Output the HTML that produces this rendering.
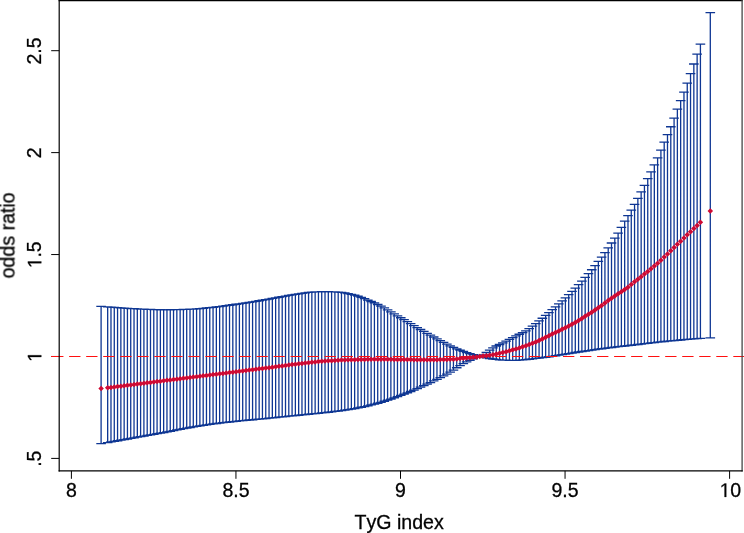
<!DOCTYPE html>
<html><head><meta charset="utf-8"><title>TyG index odds ratio</title>
<style>html,body{margin:0;padding:0;background:#fff}body{width:744px;height:533px;overflow:hidden;font-family:"Liberation Sans",sans-serif}svg{display:block}</style></head>
<body>
<svg width="744" height="533" viewBox="0 0 744 533">
<rect width="744" height="533" fill="#fff"/>
<path d="M51.2 458.40H59.2M51.2 356.47H59.2M51.2 254.55H59.2M51.2 152.62H59.2M51.2 50.70H59.2M71.40 470.9V478.8M235.95 470.9V478.8M400.50 470.9V478.8M565.05 470.9V478.8M729.60 470.9V478.8" stroke="#000" stroke-width="1" fill="none"/>
<path d="M101.10 306.42V443.71M96.30 306.42H105.90M96.30 443.71H105.90M107.68 306.96V442.54M102.88 306.96H112.48M102.88 442.54H112.48M110.98 307.22V441.95M106.18 307.22H115.78M106.18 441.95H115.78M114.27 307.46V441.36M109.47 307.46H119.07M109.47 441.36H119.07M117.56 307.68V440.77M112.76 307.68H122.36M112.76 440.77H122.36M120.86 307.91V440.18M116.06 307.91H125.66M116.06 440.18H125.66M124.15 308.13V439.58M119.35 308.13H128.95M119.35 439.58H128.95M127.44 308.34V438.99M122.64 308.34H132.24M122.64 438.99H132.24M130.73 308.54V438.40M125.93 308.54H135.53M125.93 438.40H135.53M134.03 308.72V437.80M129.23 308.72H138.83M129.23 437.80H138.83M137.32 308.89V437.21M132.52 308.89H142.12M132.52 437.21H142.12M140.61 309.03V436.62M135.81 309.03H145.41M135.81 436.62H145.41M143.91 309.17V436.04M139.11 309.17H148.71M139.11 436.04H148.71M147.20 309.32V435.46M142.40 309.32H152.00M142.40 435.46H152.00M150.49 309.46V434.88M145.69 309.46H155.29M145.69 434.88H155.29M153.78 309.58V434.30M148.98 309.58H158.59M148.98 434.30H158.59M157.08 309.68V433.72M152.28 309.68H161.88M152.28 433.72H161.88M160.37 309.76V433.13M155.57 309.76H165.17M155.57 433.13H165.17M163.66 309.80V432.53M158.86 309.80H168.46M158.86 432.53H168.46M166.96 309.79V431.92M162.16 309.79H171.76M162.16 431.92H171.76M170.25 309.76V431.28M165.45 309.76H175.05M165.45 431.28H175.05M173.54 309.71V430.63M168.74 309.71H178.34M168.74 430.63H178.34M176.84 309.63V429.97M172.04 309.63H181.64M172.04 429.97H181.64M180.13 309.54V429.32M175.33 309.54H184.93M175.33 429.32H184.93M183.42 309.43V428.68M178.62 309.43H188.22M178.62 428.68H188.22M186.71 309.32V428.07M181.91 309.32H191.51M181.91 428.07H191.51M190.01 309.20V427.49M185.21 309.20H194.81M185.21 427.49H194.81M193.30 309.04V426.93M188.50 309.04H198.10M188.50 426.93H198.10M196.59 308.83V426.39M191.79 308.83H201.39M191.79 426.39H201.39M199.89 308.58V425.87M195.09 308.58H204.69M195.09 425.87H204.69M203.18 308.29V425.36M198.38 308.29H207.98M198.38 425.36H207.98M206.47 307.97V424.87M201.67 307.97H211.27M201.67 424.87H211.27M209.77 307.64V424.40M204.97 307.64H214.57M204.97 424.40H214.57M213.06 307.30V423.95M208.26 307.30H217.86M208.26 423.95H217.86M216.35 306.95V423.52M211.55 306.95H221.15M211.55 423.52H221.15M219.64 306.57V423.11M214.84 306.57H224.44M214.84 423.11H224.44M222.94 306.15V422.72M218.14 306.15H227.74M218.14 422.72H227.74M226.23 305.70V422.35M221.43 305.70H231.03M221.43 422.35H231.03M229.52 305.23V421.99M224.72 305.23H234.32M224.72 421.99H234.32M232.82 304.75V421.64M228.02 304.75H237.62M228.02 421.64H237.62M236.11 304.27V421.29M231.31 304.27H240.91M231.31 421.29H240.91M239.40 303.78V420.96M234.60 303.78H244.20M234.60 420.96H244.20M242.70 303.30V420.63M237.90 303.30H247.50M237.90 420.63H247.50M245.99 302.81V420.32M241.19 302.81H250.79M241.19 420.32H250.79M249.28 302.32V420.02M244.48 302.32H254.08M244.48 420.02H254.08M252.58 301.81V419.73M247.78 301.81H257.38M247.78 419.73H257.38M255.87 301.29V419.43M251.07 301.29H260.67M251.07 419.43H260.67M259.16 300.76V419.14M254.36 300.76H263.96M254.36 419.14H263.96M262.45 300.22V418.84M257.65 300.22H267.25M257.65 418.84H267.25M265.75 299.67V418.53M260.95 299.67H270.55M260.95 418.53H270.55M269.04 299.08V418.20M264.24 299.08H273.84M264.24 418.20H273.84M272.33 298.47V417.87M267.53 298.47H277.13M267.53 417.87H277.13M275.63 297.86V417.54M270.83 297.86H280.43M270.83 417.54H280.43M278.92 297.27V417.21M274.12 297.27H283.72M274.12 417.21H283.72M282.21 296.67V416.88M277.41 296.67H287.01M277.41 416.88H287.01M285.51 296.06V416.55M280.71 296.06H290.31M280.71 416.55H290.31M288.80 295.46V416.22M284.00 295.46H293.60M284.00 416.22H293.60M292.09 294.88V415.89M287.29 294.88H296.89M287.29 415.89H296.89M295.38 294.34V415.56M290.58 294.34H300.18M290.58 415.56H300.18M298.68 293.83V415.23M293.88 293.83H303.48M293.88 415.23H303.48M301.97 293.37V414.90M297.17 293.37H306.77M297.17 414.90H306.77M305.26 292.90V414.58M300.46 292.90H310.06M300.46 414.58H310.06M308.56 292.46V414.27M303.76 292.46H313.36M303.76 414.27H313.36M311.85 292.13V413.95M307.05 292.13H316.65M307.05 413.95H316.65M315.14 291.95V413.63M310.34 291.95H319.94M310.34 413.63H319.94M318.44 291.84V413.31M313.63 291.84H323.24M313.63 413.31H323.24M321.73 291.75V412.97M316.93 291.75H326.53M316.93 412.97H326.53M325.02 291.70V412.61M320.22 291.70H329.82M320.22 412.61H329.82M328.31 291.72V412.24M323.51 291.72H333.11M323.51 412.24H333.11M331.61 291.80V411.86M326.81 291.80H336.41M326.81 411.86H336.41M334.90 291.94V411.46M330.10 291.94H339.70M330.10 411.46H339.70M338.19 292.11V411.05M333.39 292.11H342.99M333.39 411.05H342.99M341.49 292.43V410.62M336.69 292.43H346.29M336.69 410.62H346.29M344.78 292.95V410.16M339.98 292.95H349.58M339.98 410.16H349.58M348.07 293.61V409.67M343.27 293.61H352.87M343.27 409.67H352.87M351.36 294.33V409.14M346.56 294.33H356.16M346.56 409.14H356.16M354.66 295.17V408.57M349.86 295.17H359.46M349.86 408.57H359.46M357.95 296.19V407.94M353.15 296.19H362.75M353.15 407.94H362.75M361.24 297.36V407.26M356.44 297.36H366.04M356.44 407.26H366.04M364.54 298.65V406.54M359.74 298.65H369.34M359.74 406.54H369.34M367.83 300.03V405.78M363.03 300.03H372.63M363.03 405.78H372.63M371.12 301.48V404.97M366.32 301.48H375.92M366.32 404.97H375.92M374.42 302.96V404.13M369.62 302.96H379.22M369.62 404.13H379.22M377.71 304.48V403.25M372.91 304.48H382.51M372.91 403.25H382.51M381.00 306.14V402.29M376.20 306.14H385.80M376.20 402.29H385.80M384.29 307.94V401.26M379.49 307.94H389.09M379.49 401.26H389.09M387.59 309.84V400.17M382.79 309.84H392.39M382.79 400.17H392.39M390.88 311.80V399.04M386.08 311.80H395.68M386.08 399.04H395.68M394.17 313.79V397.85M389.37 313.79H398.97M389.37 397.85H398.97M397.47 315.78V396.64M392.67 315.78H402.27M392.67 396.64H402.27M400.76 317.73V395.41M395.96 317.73H405.56M395.96 395.41H405.56M404.05 319.65V394.15M399.25 319.65H408.85M399.25 394.15H408.85M407.35 321.61V392.84M402.55 321.61H412.15M402.55 392.84H412.15M410.64 323.58V391.48M405.84 323.58H415.44M405.84 391.48H415.44M413.93 325.56V390.08M409.13 325.56H418.73M409.13 390.08H418.73M417.23 327.54V388.64M412.43 327.54H422.03M412.43 388.64H422.03M420.52 329.49V387.17M415.72 329.49H425.32M415.72 387.17H425.32M423.81 331.41V385.66M419.01 331.41H428.61M419.01 385.66H428.61M427.10 333.28V384.12M422.30 333.28H431.90M422.30 384.12H431.90M430.40 335.15V382.55M425.60 335.15H435.20M425.60 382.55H435.20M433.69 337.02V380.95M428.89 337.02H438.49M428.89 380.95H438.49M436.98 338.87V379.31M432.18 338.87H441.78M432.18 379.31H441.78M440.28 340.69V377.62M435.48 340.69H445.08M435.48 377.62H445.08M443.57 342.46V375.87M438.77 342.46H448.37M438.77 375.87H448.37M446.86 344.17V374.05M442.06 344.17H451.66M442.06 374.05H451.66M450.16 345.80V372.15M445.36 345.80H454.96M445.36 372.15H454.96M453.45 347.35V370.08M448.65 347.35H458.25M448.65 370.08H458.25M456.74 348.82V367.77M451.94 348.82H461.54M451.94 367.77H461.54M460.03 350.19V365.54M455.23 350.19H464.83M455.23 365.54H464.83M463.33 351.44V363.66M458.53 351.44H468.13M458.53 363.66H468.13M466.62 352.62V361.96M461.82 352.62H471.42M461.82 361.96H471.42M469.91 353.70V360.38M465.11 353.70H474.71M465.11 360.38H474.71M473.21 354.70V358.77M468.41 354.70H478.01M468.41 358.77H478.01M476.50 355.74V357.00M471.70 355.74H481.30M471.70 357.00H481.30M479.79 356.20V356.20M474.99 356.20H484.59M474.99 356.20H484.59M483.08 354.88V356.83M478.28 354.88H487.88M478.28 356.83H487.88M486.38 352.49V357.84M481.58 352.49H491.18M481.58 357.84H491.18M489.67 350.16V358.48M484.87 350.16H494.47M484.87 358.48H494.47M492.96 347.79V359.02M488.16 347.79H497.76M488.16 359.02H497.76M496.26 346.02V359.43M491.46 346.02H501.06M491.46 359.43H501.06M499.55 344.48V359.78M494.75 344.48H504.35M494.75 359.78H504.35M502.84 342.94V360.04M498.04 342.94H507.64M498.04 360.04H507.64M506.14 341.22V360.19M501.34 341.22H510.94M501.34 360.19H510.94M509.43 339.37V360.31M504.63 339.37H514.23M504.63 360.31H514.23M512.72 337.53V360.39M507.92 337.53H517.52M507.92 360.39H517.52M516.01 335.80V360.38M511.21 335.80H520.81M511.21 360.38H520.81M519.31 334.23V360.18M514.51 334.23H524.11M514.51 360.18H524.11M522.60 332.65V359.87M517.80 332.65H527.40M517.80 359.87H527.40M525.89 330.82V359.56M521.09 330.82H530.69M521.09 359.56H530.69M529.19 328.63V359.23M524.39 328.63H533.99M524.39 359.23H533.99M532.48 326.17V358.86M527.68 326.17H537.28M527.68 358.86H537.28M535.77 323.58V358.46M530.97 323.58H540.57M530.97 358.46H540.57M539.07 320.96V358.07M534.27 320.96H543.87M534.27 358.07H543.87M542.36 318.23V357.66M537.56 318.23H547.16M537.56 357.66H547.16M545.65 315.40V357.23M540.85 315.40H550.45M540.85 357.23H550.45M548.94 312.54V356.77M544.14 312.54H553.74M544.14 356.77H553.74M552.24 309.70V356.28M547.44 309.70H557.04M547.44 356.28H557.04M555.53 306.84V355.73M550.73 306.84H560.33M550.73 355.73H560.33M558.82 303.93V355.16M554.02 303.93H563.62M554.02 355.16H563.62M562.12 300.94V354.61M557.32 300.94H566.92M557.32 354.61H566.92M565.41 297.85V354.08M560.61 297.85H570.21M560.61 354.08H570.21M568.70 294.68V353.55M563.90 294.68H573.50M563.90 353.55H573.50M572.00 291.42V353.04M567.20 291.42H576.80M567.20 353.04H576.80M575.29 288.07V352.52M570.49 288.07H580.09M570.49 352.52H580.09M578.58 284.63V352.02M573.78 284.63H583.38M573.78 352.02H583.38M581.88 281.10V351.52M577.08 281.10H586.68M577.08 351.52H586.68M585.17 277.45V351.04M580.37 277.45H589.97M580.37 351.04H589.97M588.46 273.66V350.57M583.66 273.66H593.26M583.66 350.57H593.26M591.75 269.73V350.10M586.95 269.73H596.55M586.95 350.10H596.55M595.05 265.64V349.64M590.25 265.64H599.85M590.25 349.64H599.85M598.34 261.42V349.19M593.54 261.42H603.14M593.54 349.19H603.14M601.63 257.07V348.75M596.83 257.07H606.43M596.83 348.75H606.43M604.93 252.53V348.31M600.13 252.53H609.73M600.13 348.31H609.73M608.22 247.81V347.89M603.42 247.81H613.02M603.42 347.89H613.02M611.51 242.99V347.48M606.71 242.99H616.31M606.71 347.48H616.31M614.81 238.20V347.09M610.01 238.20H619.61M610.01 347.09H619.61M618.10 233.21V346.71M613.30 233.21H622.90M613.30 346.71H622.90M621.39 227.36V346.34M616.59 227.36H626.19M616.59 346.34H626.19M624.68 221.22V345.98M619.88 221.22H629.48M619.88 345.98H629.48M627.98 215.65V345.63M623.18 215.65H632.78M623.18 345.63H632.78M631.27 210.10V345.27M626.47 210.10H636.07M626.47 345.27H636.07M634.56 204.31V344.90M629.76 204.31H639.36M629.76 344.90H639.36M637.86 198.29V344.52M633.06 198.29H642.66M633.06 344.52H642.66M641.15 191.92V344.13M636.35 191.92H645.95M636.35 344.13H645.95M644.44 185.33V343.72M639.64 185.33H649.24M639.64 343.72H649.24M647.74 178.62V343.31M642.94 178.62H652.53M642.94 343.31H652.53M651.03 171.78V342.91M646.23 171.78H655.83M646.23 342.91H655.83M654.32 164.93V342.53M649.52 164.93H659.12M649.52 342.53H659.12M657.61 157.85V342.18M652.81 157.85H662.41M652.81 342.18H662.41M660.91 150.14V341.84M656.11 150.14H665.71M656.11 341.84H665.71M664.20 142.21V341.51M659.40 142.21H669.00M659.40 341.51H669.00M667.49 134.59V341.19M662.69 134.59H672.29M662.69 341.19H672.29M670.79 126.75V340.88M665.99 126.75H675.59M665.99 340.88H675.59M674.08 118.04V340.58M669.28 118.04H678.88M669.28 340.58H678.88M677.37 109.12V340.28M672.57 109.12H682.17M672.57 340.28H682.17M680.66 100.66V339.98M675.87 100.66H685.46M675.87 339.98H685.46M683.96 92.10V339.68M679.16 92.10H688.76M679.16 339.68H688.76M687.25 83.04V339.37M682.45 83.04H692.05M682.45 339.37H692.05M690.54 73.67V339.07M685.74 73.67H695.34M685.74 339.07H695.34M693.84 64.01V338.79M689.04 64.01H698.64M689.04 338.79H698.64M697.13 54.13V338.53M692.33 54.13H701.93M692.33 338.53H701.93M700.42 44.06V338.30M695.62 44.06H705.22M695.62 338.30H705.22M710.30 12.59V337.80M705.50 12.59H715.10M705.50 337.80H715.10" fill="none" stroke="#0e3693" stroke-width="1.3"/>
<line x1="52.1" y1="356.45" x2="744" y2="356.45" stroke="#ff1010" stroke-width="1.15" stroke-dasharray="11.33 5.7"/>
<line x1="51.1" y1="356.45" x2="53" y2="356.45" stroke="#ff1010" stroke-width="1.15"/>
<path d="M101.10 385.73L103.85 388.48L101.10 391.23L98.35 388.48ZM107.68 385.02L110.43 387.77L107.68 390.52L104.93 387.77ZM110.98 384.63L113.73 387.38L110.98 390.13L108.23 387.38ZM114.27 384.24L117.02 386.99L114.27 389.74L111.52 386.99ZM117.56 383.83L120.31 386.58L117.56 389.33L114.81 386.58ZM120.86 383.42L123.61 386.17L120.86 388.92L118.11 386.17ZM124.15 383.01L126.90 385.76L124.15 388.51L121.40 385.76ZM127.44 382.58L130.19 385.33L127.44 388.08L124.69 385.33ZM130.73 382.16L133.48 384.91L130.73 387.66L127.98 384.91ZM134.03 381.74L136.78 384.49L134.03 387.24L131.28 384.49ZM137.32 381.32L140.07 384.07L137.32 386.82L134.57 384.07ZM140.61 380.91L143.36 383.66L140.61 386.41L137.86 383.66ZM143.91 380.50L146.66 383.25L143.91 386.00L141.16 383.25ZM147.20 380.09L149.95 382.84L147.20 385.59L144.45 382.84ZM150.49 379.68L153.24 382.43L150.49 385.18L147.74 382.43ZM153.78 379.27L156.53 382.02L153.78 384.77L151.03 382.02ZM157.08 378.86L159.83 381.61L157.08 384.36L154.33 381.61ZM160.37 378.44L163.12 381.19L160.37 383.94L157.62 381.19ZM163.66 378.03L166.41 380.78L163.66 383.53L160.91 380.78ZM166.96 377.62L169.71 380.37L166.96 383.12L164.21 380.37ZM170.25 377.21L173.00 379.96L170.25 382.71L167.50 379.96ZM173.54 376.80L176.29 379.55L173.54 382.30L170.79 379.55ZM176.84 376.39L179.59 379.14L176.84 381.89L174.09 379.14ZM180.13 375.97L182.88 378.72L180.13 381.47L177.38 378.72ZM183.42 375.56L186.17 378.31L183.42 381.06L180.67 378.31ZM186.71 375.15L189.46 377.90L186.71 380.65L183.96 377.90ZM190.01 374.74L192.76 377.49L190.01 380.24L187.26 377.49ZM193.30 374.33L196.05 377.08L193.30 379.83L190.55 377.08ZM196.59 373.92L199.34 376.67L196.59 379.42L193.84 376.67ZM199.89 373.51L202.64 376.26L199.89 379.01L197.14 376.26ZM203.18 373.09L205.93 375.84L203.18 378.59L200.43 375.84ZM206.47 372.68L209.22 375.43L206.47 378.18L203.72 375.43ZM209.77 372.27L212.52 375.02L209.77 377.77L207.02 375.02ZM213.06 371.86L215.81 374.61L213.06 377.36L210.31 374.61ZM216.35 371.45L219.10 374.20L216.35 376.95L213.60 374.20ZM219.64 371.04L222.39 373.79L219.64 376.54L216.89 373.79ZM222.94 370.63L225.69 373.38L222.94 376.13L220.19 373.38ZM226.23 370.22L228.98 372.97L226.23 375.72L223.48 372.97ZM229.52 369.80L232.27 372.55L229.52 375.30L226.77 372.55ZM232.82 369.39L235.57 372.14L232.82 374.89L230.07 372.14ZM236.11 368.98L238.86 371.73L236.11 374.48L233.36 371.73ZM239.40 368.57L242.15 371.32L239.40 374.07L236.65 371.32ZM242.70 368.16L245.45 370.91L242.70 373.66L239.95 370.91ZM245.99 367.75L248.74 370.50L245.99 373.25L243.24 370.50ZM249.28 367.34L252.03 370.09L249.28 372.84L246.53 370.09ZM252.58 366.93L255.33 369.68L252.58 372.43L249.83 369.68ZM255.87 366.52L258.62 369.27L255.87 372.02L253.12 369.27ZM259.16 366.11L261.91 368.86L259.16 371.61L256.41 368.86ZM262.45 365.70L265.20 368.45L262.45 371.20L259.70 368.45ZM265.75 365.29L268.50 368.04L265.75 370.79L263.00 368.04ZM269.04 364.88L271.79 367.63L269.04 370.38L266.29 367.63ZM272.33 364.46L275.08 367.21L272.33 369.96L269.58 367.21ZM275.63 364.05L278.38 366.80L275.63 369.55L272.88 366.80ZM278.92 363.62L281.67 366.37L278.92 369.12L276.17 366.37ZM282.21 363.18L284.96 365.93L282.21 368.68L279.46 365.93ZM285.51 362.73L288.26 365.48L285.51 368.23L282.76 365.48ZM288.80 362.29L291.55 365.04L288.80 367.79L286.05 365.04ZM292.09 361.85L294.84 364.60L292.09 367.35L289.34 364.60ZM295.38 361.42L298.13 364.17L295.38 366.92L292.63 364.17ZM298.68 361.02L301.43 363.77L298.68 366.52L295.93 363.77ZM301.97 360.64L304.72 363.39L301.97 366.14L299.22 363.39ZM305.26 360.27L308.01 363.02L305.26 365.77L302.51 363.02ZM308.56 359.89L311.31 362.64L308.56 365.39L305.81 362.64ZM311.85 359.53L314.60 362.28L311.85 365.03L309.10 362.28ZM315.14 359.19L317.89 361.94L315.14 364.69L312.39 361.94ZM318.44 358.86L321.19 361.61L318.44 364.36L315.69 361.61ZM321.73 358.57L324.48 361.32L321.73 364.07L318.98 361.32ZM325.02 358.32L327.77 361.07L325.02 363.82L322.27 361.07ZM328.31 358.10L331.06 360.85L328.31 363.60L325.56 360.85ZM331.61 357.89L334.36 360.64L331.61 363.39L328.86 360.64ZM334.90 357.70L337.65 360.45L334.90 363.20L332.15 360.45ZM338.19 357.52L340.94 360.27L338.19 363.02L335.44 360.27ZM341.49 357.36L344.24 360.11L341.49 362.86L338.74 360.11ZM344.78 357.22L347.53 359.97L344.78 362.72L342.03 359.97ZM348.07 357.09L350.82 359.84L348.07 362.59L345.32 359.84ZM351.36 356.99L354.11 359.74L351.36 362.49L348.61 359.74ZM354.66 356.90L357.41 359.65L354.66 362.40L351.91 359.65ZM357.95 356.80L360.70 359.55L357.95 362.30L355.20 359.55ZM361.24 356.72L363.99 359.47L361.24 362.22L358.49 359.47ZM364.54 356.64L367.29 359.39L364.54 362.14L361.79 359.39ZM367.83 356.57L370.58 359.32L367.83 362.07L365.08 359.32ZM371.12 356.53L373.87 359.28L371.12 362.03L368.37 359.28ZM374.42 356.50L377.17 359.25L374.42 362.00L371.67 359.25ZM377.71 356.50L380.46 359.25L377.71 362.00L374.96 359.25ZM381.00 356.52L383.75 359.27L381.00 362.02L378.25 359.27ZM384.29 356.55L387.04 359.30L384.29 362.05L381.54 359.30ZM387.59 356.58L390.34 359.33L387.59 362.08L384.84 359.33ZM390.88 356.62L393.63 359.37L390.88 362.12L388.13 359.37ZM394.17 356.67L396.92 359.42L394.17 362.17L391.42 359.42ZM397.47 356.71L400.22 359.46L397.47 362.21L394.72 359.46ZM400.76 356.75L403.51 359.50L400.76 362.25L398.01 359.50ZM404.05 356.78L406.80 359.53L404.05 362.28L401.30 359.53ZM407.35 356.82L410.10 359.57L407.35 362.32L404.60 359.57ZM410.64 356.87L413.39 359.62L410.64 362.37L407.89 359.62ZM413.93 356.91L416.68 359.66L413.93 362.41L411.18 359.66ZM417.23 356.95L419.98 359.70L417.23 362.45L414.48 359.70ZM420.52 356.98L423.27 359.73L420.52 362.48L417.77 359.73ZM423.81 357.00L426.56 359.75L423.81 362.50L421.06 359.75ZM427.10 357.00L429.85 359.75L427.10 362.50L424.35 359.75ZM430.40 356.98L433.15 359.73L430.40 362.48L427.65 359.73ZM433.69 356.94L436.44 359.69L433.69 362.44L430.94 359.69ZM436.98 356.89L439.73 359.64L436.98 362.39L434.23 359.64ZM440.28 356.82L443.03 359.57L440.28 362.32L437.53 359.57ZM443.57 356.73L446.32 359.48L443.57 362.23L440.82 359.48ZM446.86 356.64L449.61 359.39L446.86 362.14L444.11 359.39ZM450.16 356.53L452.91 359.28L450.16 362.03L447.41 359.28ZM453.45 356.38L456.20 359.13L453.45 361.88L450.70 359.13ZM456.74 356.14L459.49 358.89L456.74 361.64L453.99 358.89ZM460.03 355.84L462.78 358.59L460.03 361.34L457.28 358.59ZM463.33 355.55L466.08 358.30L463.33 361.05L460.58 358.30ZM466.62 355.23L469.37 357.98L466.62 360.73L463.87 357.98ZM469.91 354.88L472.66 357.63L469.91 360.38L467.16 357.63ZM473.21 354.51L475.96 357.26L473.21 360.01L470.46 357.26ZM476.50 354.13L479.25 356.88L476.50 359.63L473.75 356.88ZM479.79 353.73L482.54 356.48L479.79 359.23L477.04 356.48ZM483.08 353.31L485.83 356.06L483.08 358.81L480.33 356.06ZM486.38 352.88L489.13 355.63L486.38 358.38L483.63 355.63ZM489.67 352.40L492.42 355.15L489.67 357.90L486.92 355.15ZM492.96 351.88L495.71 354.63L492.96 357.38L490.21 354.63ZM496.26 351.27L499.01 354.02L496.26 356.77L493.51 354.02ZM499.55 350.57L502.30 353.32L499.55 356.07L496.80 353.32ZM502.84 349.81L505.59 352.56L502.84 355.31L500.09 352.56ZM506.14 348.99L508.89 351.74L506.14 354.49L503.39 351.74ZM509.43 348.08L512.18 350.83L509.43 353.58L506.68 350.83ZM512.72 347.12L515.47 349.87L512.72 352.62L509.97 349.87ZM516.01 346.14L518.76 348.89L516.01 351.64L513.26 348.89ZM519.31 345.14L522.06 347.89L519.31 350.64L516.56 347.89ZM522.60 344.10L525.35 346.85L522.60 349.60L519.85 346.85ZM525.89 342.99L528.64 345.74L525.89 348.49L523.14 345.74ZM529.19 341.81L531.94 344.56L529.19 347.31L526.44 344.56ZM532.48 340.56L535.23 343.31L532.48 346.06L529.73 343.31ZM535.77 339.23L538.52 341.98L535.77 344.73L533.02 341.98ZM539.07 337.79L541.82 340.54L539.07 343.29L536.32 340.54ZM542.36 336.18L545.11 338.93L542.36 341.68L539.61 338.93ZM545.65 334.53L548.40 337.28L545.65 340.03L542.90 337.28ZM548.94 332.94L551.69 335.69L548.94 338.44L546.19 335.69ZM552.24 331.37L554.99 334.12L552.24 336.87L549.49 334.12ZM555.53 329.80L558.28 332.55L555.53 335.30L552.78 332.55ZM558.82 328.21L561.57 330.96L558.82 333.71L556.07 330.96ZM562.12 326.58L564.87 329.33L562.12 332.08L559.37 329.33ZM565.41 324.94L568.16 327.69L565.41 330.44L562.66 327.69ZM568.70 323.27L571.45 326.02L568.70 328.77L565.95 326.02ZM572.00 321.53L574.75 324.28L572.00 327.03L569.25 324.28ZM575.29 319.70L578.04 322.45L575.29 325.20L572.54 322.45ZM578.58 317.74L581.33 320.49L578.58 323.24L575.83 320.49ZM581.88 315.70L584.63 318.45L581.88 321.20L579.13 318.45ZM585.17 313.61L587.92 316.36L585.17 319.11L582.42 316.36ZM588.46 311.51L591.21 314.26L588.46 317.01L585.71 314.26ZM591.75 309.39L594.50 312.14L591.75 314.89L589.00 312.14ZM595.05 307.24L597.80 309.99L595.05 312.74L592.30 309.99ZM598.34 305.03L601.09 307.78L598.34 310.53L595.59 307.78ZM601.63 302.75L604.38 305.50L601.63 308.25L598.88 305.50ZM604.93 300.34L607.68 303.09L604.93 305.84L602.18 303.09ZM608.22 297.86L610.97 300.61L608.22 303.36L605.47 300.61ZM611.51 295.44L614.26 298.19L611.51 300.94L608.76 298.19ZM614.81 293.18L617.56 295.93L614.81 298.68L612.06 295.93ZM618.10 291.05L620.85 293.80L618.10 296.55L615.35 293.80ZM621.39 288.95L624.14 291.70L621.39 294.45L618.64 291.70ZM624.68 286.78L627.43 289.53L624.68 292.28L621.93 289.53ZM627.98 284.44L630.73 287.19L627.98 289.94L625.23 287.19ZM631.27 281.80L634.02 284.55L631.27 287.30L628.52 284.55ZM634.56 279.10L637.31 281.85L634.56 284.60L631.81 281.85ZM637.86 276.48L640.61 279.23L637.86 281.98L635.11 279.23ZM641.15 273.89L643.90 276.64L641.15 279.39L638.40 276.64ZM644.44 271.31L647.19 274.06L644.44 276.81L641.69 274.06ZM647.74 268.70L650.49 271.45L647.74 274.20L644.99 271.45ZM651.03 266.04L653.78 268.79L651.03 271.54L648.28 268.79ZM654.32 263.30L657.07 266.05L654.32 268.80L651.57 266.05ZM657.61 260.44L660.36 263.19L657.61 265.94L654.86 263.19ZM660.91 257.45L663.66 260.20L660.91 262.95L658.16 260.20ZM664.20 254.37L666.95 257.12L664.20 259.87L661.45 257.12ZM667.49 251.22L670.24 253.97L667.49 256.72L664.74 253.97ZM670.79 248.03L673.54 250.78L670.79 253.53L668.04 250.78ZM674.08 244.81L676.83 247.56L674.08 250.31L671.33 247.56ZM677.37 241.59L680.12 244.34L677.37 247.09L674.62 244.34ZM680.66 238.39L683.41 241.14L680.66 243.89L677.91 241.14ZM683.96 235.19L686.71 237.94L683.96 240.69L681.21 237.94ZM687.25 232.04L690.00 234.79L687.25 237.54L684.50 234.79ZM690.54 229.05L693.29 231.80L690.54 234.55L687.79 231.80ZM693.84 225.75L696.59 228.50L693.84 231.25L691.09 228.50ZM697.13 222.65L699.88 225.40L697.13 228.15L694.38 225.40ZM700.42 219.48L703.17 222.23L700.42 224.98L697.67 222.23ZM710.30 208.24L713.05 210.99L710.30 213.74L707.55 210.99Z" fill="#cf0a33" stroke="none"/>
<line x1="58.6" y1="0.55" x2="742.7" y2="0.55" stroke="#000" stroke-width="1.2"/>
<line x1="742.1" y1="0" x2="742.1" y2="471.4" stroke="#444" stroke-width="1.3"/>
<line x1="59.2" y1="0" x2="59.2" y2="471.4" stroke="#000" stroke-width="1.2"/>
<line x1="58.6" y1="470.9" x2="742.7" y2="470.9" stroke="#000" stroke-width="1.2"/>
<g font-family="Liberation Sans, sans-serif" font-size="19.5" fill="#000" stroke="#000" stroke-width="0.3" opacity="0.995" style="font-kerning:none">
<g transform="translate(71.40 496.9)"><text x="-5.42" y="0">8</text></g>
<g transform="translate(235.95 496.9)"><text x="-13.55" y="0">8.5</text></g>
<g transform="translate(400.50 496.9)"><text x="-5.42" y="0">9</text></g>
<g transform="translate(565.05 496.9)"><text x="-13.55" y="0">9.5</text></g>
<g transform="translate(730.20 496.9)"><path transform="translate(-10.84 0) scale(0.00952 -0.00952)" d="M545 0V1237L227 1010V1180L560 1409H726V0Z" stroke-width="31.5"/><text x="0.00" y="0">0</text></g>
<g transform="translate(41.3 458.70) rotate(-90)"><text x="-8.13" y="0">.5</text></g>
<g transform="translate(41.3 356.77) rotate(-90)"><path transform="translate(-5.42 0) scale(0.00952 -0.00952)" d="M545 0V1237L227 1010V1180L560 1409H726V0Z" stroke-width="31.5"/></g>
<g transform="translate(41.3 254.85) rotate(-90)"><path transform="translate(-13.55 0) scale(0.00952 -0.00952)" d="M545 0V1237L227 1010V1180L560 1409H726V0Z" stroke-width="31.5"/><text x="-2.71" y="0">.5</text></g>
<g transform="translate(41.3 152.93) rotate(-90)"><text x="-5.42" y="0">2</text></g>
<g transform="translate(41.3 51.00) rotate(-90)"><text x="-13.55" y="0">2.5</text></g>
</g>
<g font-family="Liberation Sans, sans-serif" font-size="19.6" fill="#000" stroke="#000" stroke-width="0.3" opacity="0.995" style="font-kerning:none">
<text x="399.1" y="528.8" text-anchor="middle">TyG index</text>
<text transform="translate(14.5 235.4) rotate(-90)" text-anchor="middle">odds ratio</text>
</g>
</svg>
</body></html>
